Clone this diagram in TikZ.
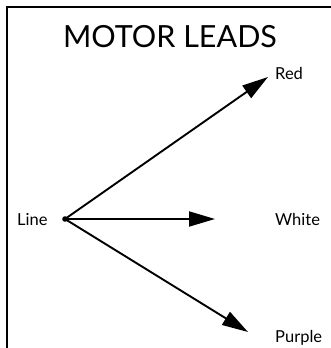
\documentclass[tikz,border=0pt]{standalone}
\usepackage{fontspec}
\setmainfont{Lato}
\usetikzlibrary{arrows.meta}
\begin{document}
\begin{tikzpicture}[x=1pt,y=-1pt,
  lbl/.style={inner sep=0pt,anchor=base west,font=\fontsize{16.5}{19}\selectfont},
  wire/.style={line width=1.9pt,-{Triangle[length=26pt,width=15pt]}}]
\useasboundingbox (0,0) rectangle (331,348);
\draw[line width=2pt] (335,7) -- (7,7) -- (7,352);
\node[inner sep=0pt,anchor=base,font=\fontsize{30.5}{36}\selectfont] (title) at (170,47) {MOTOR LEADS};
\coordinate (o) at (65,219);
\fill (o) circle (2.8);
\node[lbl] (line) at (17,225) {Line};
\node[lbl] (red) at (275,79) {Red};
\node[lbl] (white) at (275,225) {White};
\node[lbl] (purple) at (275,342) {Purple};
\coordinate (tr) at (268,77);
\coordinate (tw) at (215,219);
\coordinate (tp) at (248,332);
\draw[wire] (o) -- (tr);
\draw[wire] (o) -- (tw);
\draw[wire] (o) -- (tp);
\end{tikzpicture}
\end{document}
